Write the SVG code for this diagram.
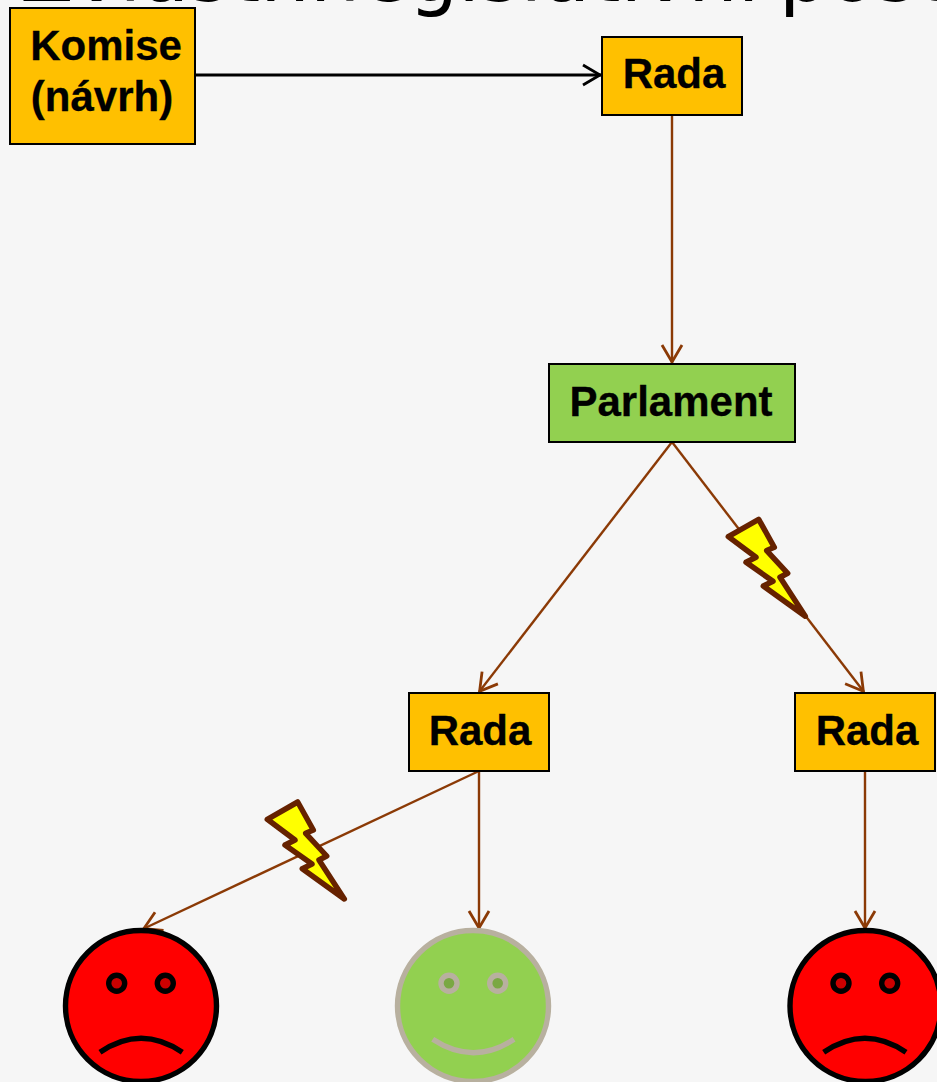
<svg xmlns="http://www.w3.org/2000/svg" width="937" height="1082" viewBox="0 0 937 1082">
<style>
.box{stroke:#000;stroke-width:2}
.amber{fill:#ffc000}
.green{fill:#92d050}
.lbl{font-family:"Liberation Sans",Arial,sans-serif;font-weight:700;font-size:42px;fill:#000;stroke:#000;stroke-width:.3;text-anchor:middle}
.title{font-family:"DejaVu Sans",Verdana,sans-serif;font-size:78px;fill:#000}
.conn{fill:none;stroke:#8b3a06;stroke-width:2.4}
.conn.black{stroke:#000;stroke-width:2.8}
.bolt{fill:#ff0;stroke:#662200;stroke-width:5.5;stroke-linejoin:round}
.sad circle{fill:#f00;stroke:#000;stroke-width:5.4}
.sad circle.eye{fill:#c00}
.sad path{fill:none;stroke:#000;stroke-width:5.4}
.happy circle{fill:#92d050;stroke:#b8b09f;stroke-width:5.4}
.happy circle.eye{fill:#7aa843}
.happy path{fill:none;stroke:#b8b09f;stroke-width:5.4}
</style>
<defs>
<marker id="ab" markerUnits="userSpaceOnUse" markerWidth="26" markerHeight="30" refX="21" refY="15" orient="auto"><path d="M3 5L20 15L3 25" fill="none" stroke="#8b3a06" stroke-width="2.8"/></marker>
<marker id="ak" markerUnits="userSpaceOnUse" markerWidth="26" markerHeight="30" refX="21" refY="15" orient="auto"><path d="M3 5L20 15L3 25" fill="none" stroke="#000" stroke-width="2.8"/></marker>
<polygon id="bolt" points="267.3,819.3 297.7,802 313.3,830 305.7,833.3 326.7,856 319,860 344.3,899 302.3,868.7 312,864 285,845 295,840"/>
</defs>
<rect width="937" height="1082" fill="#f6f6f6"/>
<text class="title" y="0.5"><tspan x="20">Zvláštní</tspan><tspan x="339">legislativní</tspan><tspan x="779">postup</tspan></text>
<g id="connectors">
<line class="conn black" x1="195" y1="75" x2="601" y2="75" marker-end="url(#ak)"/>
<line class="conn" x1="672" y1="115" x2="672" y2="363" marker-end="url(#ab)"/>
<line class="conn" x1="672" y1="442" x2="479" y2="692" marker-end="url(#ab)"/>
<line class="conn" x1="672" y1="442" x2="864" y2="692" marker-end="url(#ab)"/>
<line class="conn" x1="479" y1="771" x2="143" y2="929" marker-end="url(#ab)"/>
<line class="conn" x1="479" y1="771" x2="479" y2="929" marker-end="url(#ab)"/>
<line class="conn" x1="865" y1="771" x2="865" y2="929" marker-end="url(#ab)"/>
</g>
<g id="komise"><rect class="box amber" x="10" y="8" width="185" height="136"/><text class="lbl" x="106" y="60">Komise</text><text class="lbl" x="102" y="111">(návrh)</text></g>
<g id="rada-1"><rect class="box amber" x="602" y="37" width="140" height="78"/><text class="lbl" x="674" y="88">Rada</text></g>
<g id="parlament"><rect class="box green" x="549" y="364" width="246" height="78"/><text class="lbl" x="671" y="416">Parlament</text></g>
<g id="rada-2"><rect class="box amber" x="409" y="693" width="140" height="78"/><text class="lbl" x="480" y="745">Rada</text></g>
<g id="rada-3"><rect class="box amber" x="795" y="693" width="140" height="78"/><text class="lbl" x="867" y="745">Rada</text></g>
<g id="bolt-1"><use class="bolt" href="#bolt" x="461" y="-282.7"/></g>
<g id="bolt-2"><use class="bolt" href="#bolt"/></g>
<g id="face-sad-1" class="sad"><circle cx="141" cy="1006" r="75.5"/><circle class="eye" cx="116.7" cy="983.3" r="8"/><circle class="eye" cx="165.3" cy="983.3" r="8"/><path d="M100 1052.3Q141 1024.3 182.3 1052.3"/></g>
<g id="face-happy" class="happy"><circle cx="473" cy="1006" r="75.5"/><circle class="eye" cx="449" cy="983.3" r="8"/><circle class="eye" cx="497.7" cy="983.3" r="8"/><path d="M432.7 1039.3Q473.3 1066 514 1039.3"/></g>
<g id="face-sad-2" class="sad"><circle cx="865.5" cy="1006" r="75.5"/><circle class="eye" cx="841" cy="983.3" r="8"/><circle class="eye" cx="889.7" cy="983.3" r="8"/><path d="M823.7 1052.3Q865 1024.3 906 1052.3"/></g>
</svg>
